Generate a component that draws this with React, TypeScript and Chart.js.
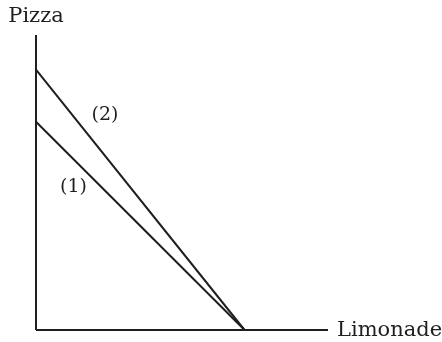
import React, { useEffect, useRef } from "react";
import { Chart, registerables } from "chart.js";

Chart.register(...registerables);

const xAxisTitle = "Limonade";
const yAxisTitle = "Pizza";
const xMax = 14;
const yMax = 17;
const line1 = [
  { x: 0, y: 12 },
  { x: 10, y: 0 },
];
const line2 = [
  { x: 0, y: 15 },
  { x: 10, y: 0 },
];
const curveLabels = ["(1)", "(2)"];
const curveLabelX = [1.8, 3.31];
const curveLabelY = [8.24, 12.39];

const INK = "#1f1f1f";

const textPlugin = {
  id: "textPlugin",
  afterDatasetsDraw(chart: any) {
    const { ctx, scales } = chart;
    const xs = scales.x;
    const ys = scales.y;
    ctx.save();
    ctx.fillStyle = INK;
    ctx.textBaseline = "middle";
    ctx.font = "21px 'DejaVu Serif'";
    ctx.textAlign = "center";
    ctx.fillText(yAxisTitle, xs.getPixelForValue(0), ys.getPixelForValue(yMax) - 18);
    ctx.textAlign = "left";
    ctx.fillText(xAxisTitle, xs.getPixelForValue(xMax) + 9, ys.getPixelForValue(0) + 1);
    ctx.font = "19px 'DejaVu Serif'";
    ctx.textAlign = "center";
    curveLabels.forEach((t, i) => {
      ctx.fillText(t, xs.getPixelForValue(curveLabelX[i]), ys.getPixelForValue(curveLabelY[i]));
    });
    ctx.restore();
  },
};

export default function App() {
  const ref = useRef<HTMLCanvasElement | null>(null);
  useEffect(() => {
    if (!ref.current) return;
    const lineStyle = {
      borderColor: INK,
      borderWidth: 2,
      pointRadius: 0,
      fill: false,
      clip: false as any,
      tension: 0,
    };
    const chart = new Chart(ref.current, {
      type: "line",
      data: {
        datasets: [
          { ...lineStyle, data: [{ x: 0, y: 0 }, { x: 0, y: yMax }] },
          { ...lineStyle, data: [{ x: 0, y: 0 }, { x: xMax, y: 0 }] },
          { ...lineStyle, data: line1 },
          { ...lineStyle, data: line2 },
        ],
      },
      options: {
        animation: false,
        responsive: false,
        maintainAspectRatio: false,
        layout: { padding: { left: 36, top: 35, right: 114, bottom: 12 } },
        plugins: { legend: { display: false }, tooltip: { enabled: false } },
        scales: {
          x: { type: "linear", min: 0, max: xMax, display: false },
          y: { type: "linear", min: 0, max: yMax, display: false },
        },
      },
      plugins: [textPlugin],
    });
    return () => chart.destroy();
  }, []);
  return (
    <div style={{ position: "fixed", left: 0, top: 0, width: 442, height: 342, background: "#fff" }}>
      <canvas ref={ref} width={442} height={342} style={{ display: "block" }} />
    </div>
  );
}
